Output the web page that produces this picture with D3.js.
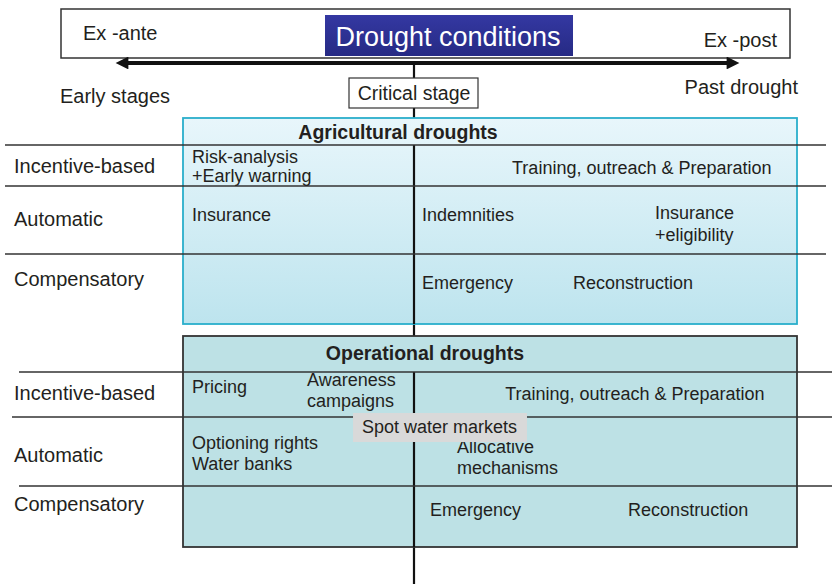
<!DOCTYPE html>
<html><head><meta charset="utf-8">
<script src="https://cdn.jsdelivr.net/npm/d3@7"></script>
<style>body{margin:0;background:#fff}svg{display:block}text{font-family:"Liberation Sans",Arial,sans-serif;fill:#231f20}</style>
</head><body><svg id="c" width="832" height="584"></svg>
<script>
// ---------- data ----------
const title = "Drought conditions";
const timelineEnds = ["Ex -ante", "Ex -post"];
const stageLabels = ["Early stages", "Critical stage", "Past drought"];
const rowCategories = ["Incentive-based", "Automatic", "Compensatory"];
const panels = ["Agricultural droughts", "Operational droughts"];
// stage: -1 = earliest (left edge of panel), 0 = critical stage, 1 = past drought (right edge)
const agriItems = [
  {row: 0, stage: -0.961, lines: ["Risk-analysis", "+Early warning"]},
  {row: 0, stage: 0.256, lines: ["Training, outreach & Preparation"]},
  {row: 1, stage: -0.961, lines: ["Insurance"]},
  {row: 1, stage: 0.021, lines: ["Indemnities"]},
  {row: 1, stage: 0.629, lines: ["Insurance", "+eligibility"]},
  {row: 2, stage: 0.021, lines: ["Emergency"]},
  {row: 2, stage: 0.415, lines: ["Reconstruction"]}
];
const operItems = [
  {row: 0, stage: -0.961, lines: ["Pricing"]},
  {row: 0, stage: -0.463, lines: ["Awareness", "campaigns"]},
  {row: 0, stage: 0.238, lines: ["Training, outreach & Preparation"]},
  {row: 1, stage: -0.961, lines: ["Optioning rights", "Water banks"]},
  {row: 1, stage: 0.112, lines: ["Allocative", "mechanisms"]},
  {row: 2, stage: 0.042, lines: ["Emergency"]},
  {row: 2, stage: 0.559, lines: ["Reconstruction"]}
];
const bridgeItem = {label: "Spot water markets", from: -0.264, to: 0.295};

// ---------- layout ----------
const agriBaselines = [[163, 182], [174], [221], [221], [219, 241], [289], [289]];
const operBaselines = [[393], [386, 407], [400], [449, 470], [453, 474], [516], [516]];

const svg = d3.select("#c");
const x = d3.scaleLinear().domain([-1, 0, 1]).range([183, 414, 797]);
const H = 584;

const defs = svg.append("defs");
const g1 = defs.append("linearGradient").attr("id", "agri").attr("x1", 0).attr("y1", 0).attr("x2", 0).attr("y2", 1);
g1.append("stop").attr("offset", "0%").attr("stop-color", "#e8f6fb");
g1.append("stop").attr("offset", "100%").attr("stop-color", "#bde4ee");
const g2 = defs.append("linearGradient").attr("id", "navy").attr("x1", 0).attr("y1", 0).attr("x2", 0).attr("y2", 1);
g2.append("stop").attr("offset", "0%").attr("stop-color", "#3438a2");
g2.append("stop").attr("offset", "100%").attr("stop-color", "#262a84");
const mk = (id, path) => defs.append("marker").attr("id", id).attr("viewBox", "0 0 10 10")
  .attr("refX", 5).attr("refY", 5).attr("markerWidth", 4).attr("markerHeight", 3.2)
  .attr("orient", "auto").append("path").attr("d", path).attr("fill", "#111");
mk("ah", "M0,0L10,5L0,10z");
mk("at", "M10,0L0,5L10,10z");

// top banner
svg.append("rect").attr("x", 61).attr("y", 9).attr("width", 729).attr("height", 49)
  .attr("fill", "#fff").attr("stroke", "#333").attr("stroke-width", 1.5);
svg.append("rect").attr("x", 325).attr("y", 15).attr("width", 248).attr("height", 41).attr("fill", "url(#navy)");
svg.append("text").attr("x", 448).attr("y", 46).attr("text-anchor", "middle")
  .style("font-size", "27px").style("fill", "#fff").text(title);
svg.append("text").attr("x", 83).attr("y", 40).style("font-size", "20px").text(timelineEnds[0]);
svg.append("text").attr("x", 777).attr("y", 47).attr("text-anchor", "end").style("font-size", "20px").text(timelineEnds[1]);

// timeline arrow
svg.append("line").attr("x1", 122).attr("x2", 733).attr("y1", 63).attr("y2", 63)
  .attr("stroke", "#111").attr("stroke-width", 4)
  .attr("marker-start", "url(#at)").attr("marker-end", "url(#ah)");

// main vertical critical-stage line
svg.append("line").attr("x1", x(0)).attr("x2", x(0)).attr("y1", 63).attr("y2", H)
  .attr("stroke", "#111").attr("stroke-width", 2.2);

// stage labels
svg.append("text").attr("x", 60).attr("y", 103).style("font-size", "20px").text(stageLabels[0]);
svg.append("rect").attr("x", 349).attr("y", 78).attr("width", 129).attr("height", 30)
  .attr("fill", "#fff").attr("stroke", "#333").attr("stroke-width", 1.2);
svg.append("text").attr("x", 414).attr("y", 100).attr("text-anchor", "middle").style("font-size", "19.5px").text(stageLabels[1]);
svg.append("text").attr("x", 798).attr("y", 94).attr("text-anchor", "end").style("font-size", "20px").text(stageLabels[2]);

// panels
const panelSpec = [
  {name: panels[0], top: 118, bottom: 324, rows: [145, 186, 254], fill: "url(#agri)", stroke: "#2aaecb",
   lineStart: [5, 5, 5], lineEnd: 826, headerX: 398, headerY: 139, labelY: [173, 226, 286],
   items: agriItems, baselines: agriBaselines},
  {name: panels[1], top: 336, bottom: 547, rows: [372, 417, 486], fill: "#bde1e5", stroke: "#333",
   lineStart: [19, 12, 19], lineEnd: 832, headerX: 425, headerY: 360, labelY: [400, 462, 511],
   items: operItems, baselines: operBaselines}
];

panelSpec.forEach(p => {
  const g = svg.append("g");
  g.append("rect").attr("x", x(-1)).attr("y", p.top).attr("width", x(1) - x(-1)).attr("height", p.bottom - p.top)
    .attr("fill", p.fill).attr("stroke", p.stroke).attr("stroke-width", 1.8);
  g.append("text").attr("x", p.headerX).attr("y", p.headerY)
    .attr("text-anchor", "middle").style("font-size", "19.5px").style("font-weight", "bold").text(p.name);
  g.append("line").attr("x1", x(0)).attr("x2", x(0)).attr("y1", p.rows[0]).attr("y2", p.bottom)
    .attr("stroke", "#111").attr("stroke-width", 2.2);
  p.rows.forEach((ry, i) => {
    g.append("line").attr("x1", p.lineStart[i]).attr("x2", p.lineEnd).attr("y1", ry).attr("y2", ry)
      .attr("stroke", "#333").attr("stroke-width", 1.5);
  });
  rowCategories.forEach((c, i) => {
    g.append("text").attr("x", 14).attr("y", p.labelY[i]).style("font-size", "20px").text(c);
  });
  p.items.forEach((it, idx) => {
    const t = g.append("text").attr("x", x(it.stage)).style("font-size", "18px");
    it.lines.forEach((l, k) => {
      t.append("tspan").attr("x", x(it.stage)).attr("y", p.baselines[idx][k]).text(l);
    });
  });
});

// spot water markets bridge
svg.append("rect").attr("x", x(bridgeItem.from)).attr("y", 413).attr("width", x(bridgeItem.to) - x(bridgeItem.from)).attr("height", 29)
  .attr("fill", "#d9d9d9");
svg.append("text").attr("x", x(bridgeItem.from) + 9).attr("y", 433).style("font-size", "18px").text(bridgeItem.label);
</script></body></html>
